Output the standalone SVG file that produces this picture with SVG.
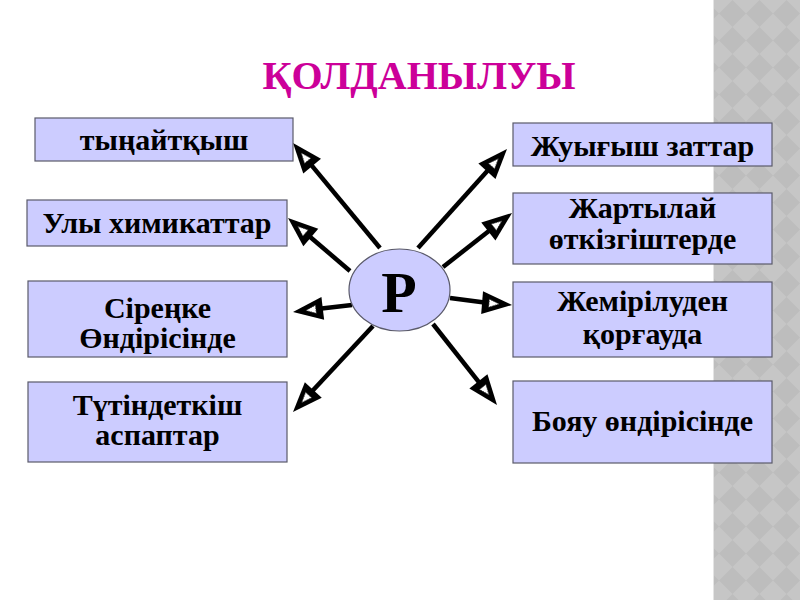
<svg xmlns="http://www.w3.org/2000/svg" xmlns:xlink="http://www.w3.org/1999/xlink" width="800" height="600" viewBox="0 0 800 600">
<defs>
<style>
.box{fill:#CCCCFF;stroke:#5a5a6a;stroke-width:1.2}
.t{font-family:"Liberation Serif","Times New Roman",serif;font-weight:bold;font-size:30px;fill:#000;text-anchor:middle}
.ln{stroke:#000;stroke-width:4.5;fill:none}
</style>
<pattern id="dia" width="27" height="27" patternUnits="userSpaceOnUse" x="719" y="0">
<rect width="27" height="27" fill="#C6C6C6"/>
<path d="M13.5,0 L27,13.5 L13.5,27 L0,13.5 Z" fill="#BDBDBD"/>
</pattern>
<g id="head">
<path d="M0,0 L-30,-11.5 L-30,11.5 Z" fill="#000"/>
<path d="M-13,0 L-23,-4 L-23,4 Z" fill="#fff" stroke="#444" stroke-width="0.8" stroke-dasharray="1.5,1"/>
</g>
</defs>
<rect width="800" height="600" fill="#fff"/>
<rect x="713" y="0" width="87" height="600" fill="url(#dia)"/>
<line x1="713.5" y1="0" x2="713.5" y2="600" stroke="#E4E4E4" stroke-width="1"/>
<text x="419" y="89" font-family="Liberation Serif, Times New Roman, serif" font-weight="bold" font-size="40" fill="#CC0099" text-anchor="middle">ҚОЛДАНЫЛУЫ</text>
<g id="connectors">
<path class="ln" d="M380,248 L305.8,158.4"/>
<path class="ln" d="M350,271 L303.2,231"/>
<path class="ln" d="M352,305 L312.9,309.6"/>
<path class="ln" d="M373,326 L306.5,397.3"/>
<path class="ln" d="M418,248 L493.6,163.9"/>
<path class="ln" d="M443,267 L496.2,225.3"/>
<path class="ln" d="M450,298 L492.1,303.4"/>
<path class="ln" d="M433,324 L484.6,389.3"/>
<use href="#head" xlink:href="#head" transform="translate(293,143) rotate(-129.6)"/>
<use href="#head" xlink:href="#head" transform="translate(288,218) rotate(-139.5)"/>
<use href="#head" xlink:href="#head" transform="translate(293,312) rotate(173.2)"/>
<use href="#head" xlink:href="#head" transform="translate(293,412) rotate(132.6)"/>
<use href="#head" xlink:href="#head" transform="translate(507,149) rotate(-48)"/>
<use href="#head" xlink:href="#head" transform="translate(512,213) rotate(-38)"/>
<use href="#head" xlink:href="#head" transform="translate(512,305) rotate(4.6)"/>
<use href="#head" xlink:href="#head" transform="translate(497,405) rotate(51.7)"/>
</g>
<g id="center">
<ellipse cx="399.5" cy="290" rx="50.5" ry="41" class="box"/>
<text x="399" y="312" font-family="Liberation Serif, Times New Roman, serif" font-weight="bold" font-size="58" text-anchor="middle">Р</text>
</g>
<g id="n1"><rect class="box" x="35" y="118" width="258" height="43"/><text class="t" x="164" y="150">тыңайтқыш</text></g>
<g id="n2"><rect class="box" x="27" y="200" width="260" height="46"/><text class="t" x="157" y="233">Улы химикаттар</text></g>
<g id="n3"><rect class="box" x="28" y="281" width="259" height="76"/><text class="t" x="157.5" y="318">Сіреңке</text><text class="t" x="157.5" y="348">Өндірісінде</text></g>
<g id="n4"><rect class="box" x="28" y="382" width="259" height="80"/><text class="t" x="157.5" y="415">Түтіндеткіш</text><text class="t" x="157.5" y="445">аспаптар</text></g>
<g id="n5"><rect class="box" x="513" y="123" width="259" height="43"/><text class="t" x="642.5" y="156">Жуығыш заттар</text></g>
<g id="n6"><rect class="box" x="513" y="193" width="259" height="71"/><text class="t" x="642.5" y="218">Жартылай</text><text class="t" x="642.5" y="249">өткізгіштерде</text></g>
<g id="n7"><rect class="box" x="513" y="282" width="259" height="75"/><text class="t" x="642.5" y="311">Жемірілуден</text><text class="t" x="642.5" y="344">қорғауда</text></g>
<g id="n8"><rect class="box" x="513" y="381" width="259" height="82"/><text class="t" x="642.5" y="431">Бояу өндірісінде</text></g>
</svg>
